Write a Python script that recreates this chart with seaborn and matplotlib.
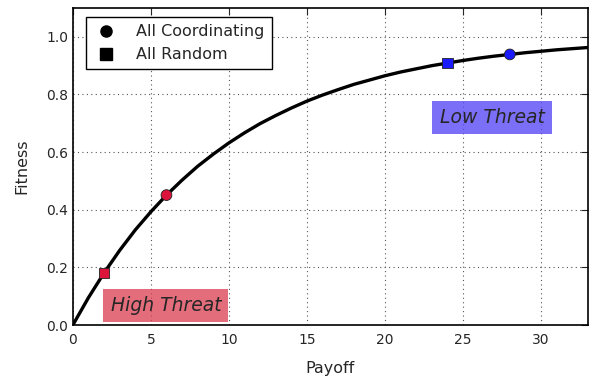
import matplotlib
matplotlib.use("Agg")
import matplotlib.pyplot as plt
from matplotlib.lines import Line2D
import seaborn as sns
import pandas as pd

# Fitness curve
payoff_curve = list(range(0, 34))
fitness_curve = [0.000, 0.095, 0.181, 0.259, 0.330, 0.393, 0.451, 0.503, 0.551, 0.593,
                 0.632, 0.667, 0.699, 0.727, 0.753, 0.777, 0.798, 0.817, 0.835, 0.850,
                 0.865, 0.878, 0.889, 0.900, 0.909, 0.918, 0.926, 0.933, 0.939, 0.945,
                 0.950, 0.955, 0.959, 0.963]

# Marked points
pt_payoff = [6, 2, 28, 24]
pt_fitness = [0.451, 0.181, 0.939, 0.909]
pt_strategy = ["All Coordinating", "All Random", "All Coordinating", "All Random"]
pt_threat = ["High", "High", "Low", "Low"]

sns.set_style("white")
plt.rcParams['font.family'] = ['DejaVu Sans']

fig = plt.figure(figsize=(5.92, 3.82), dpi=100)
ax = fig.add_axes([0.123, 0.149, 0.870, 0.830])

curve = pd.DataFrame({"Payoff": payoff_curve, "Fitness": fitness_curve})
sns.lineplot(data=curve, x="Payoff", y="Fitness", ax=ax, color="black", lw=2.4, zorder=3)

pts = pd.DataFrame({"Payoff": pt_payoff, "Fitness": pt_fitness,
                    "Strategy": pt_strategy, "Threat": pt_threat})
sns.scatterplot(data=pts, x="Payoff", y="Fitness", hue="Threat", style="Strategy",
                palette={"High": "#dc143c", "Low": "#1a1aff"},
                markers={"All Coordinating": "o", "All Random": "s"},
                s=60, edgecolor="#222222", linewidth=0.6, ax=ax, zorder=4, legend=False)

ax.set_xlim(0, 33)
ax.set_ylim(0, 1.1)
ax.set_xticks([0, 5, 10, 15, 20, 25, 30])
ax.set_yticks([0.0, 0.2, 0.4, 0.6, 0.8, 1.0])
ax.set_yticklabels(["0.0", "0.2", "0.4", "0.6", "0.8", "1.0"])
ax.grid(True, color="#555555", linestyle=(0, (1, 3)), linewidth=0.8)
ax.tick_params(axis="both", direction="in", top=True, right=True, length=5, labelsize=10)
ax.tick_params(axis="x", pad=6)
for s in ax.spines.values():
    s.set_color("black")
    s.set_linewidth(1.2)
ax.set_xlabel("Payoff", fontsize=11.5, labelpad=10)
ax.set_ylabel("Fitness", fontsize=11.5, labelpad=12)

ax.text(5.96, 0.069, "High Threat", fontsize=13.5, style="italic", ha="center", va="center",
        bbox=dict(boxstyle="square,pad=0.38", facecolor="#dc3c50", edgecolor="none", alpha=0.75),
        zorder=5)
ax.text(26.86, 0.721, "Low Threat", fontsize=13.5, style="italic", ha="center", va="center",
        bbox=dict(boxstyle="square,pad=0.38", facecolor="#5a4af5", edgecolor="none", alpha=0.8),
        zorder=5)

handles = [Line2D([], [], marker="o", color="black", linestyle="none", markersize=8),
           Line2D([], [], marker="s", color="black", linestyle="none", markersize=8)]
ax.legend(handles, ["All Coordinating", "All Random"], loc="upper left", fontsize=11.5,
          frameon=True, fancybox=False, edgecolor="black", framealpha=1,
          handlelength=1.6, handletextpad=1.1, borderpad=0.45, labelspacing=0.5,
          bbox_to_anchor=(0.01, 0.997))

fig.savefig("out.png", dpi=100)
